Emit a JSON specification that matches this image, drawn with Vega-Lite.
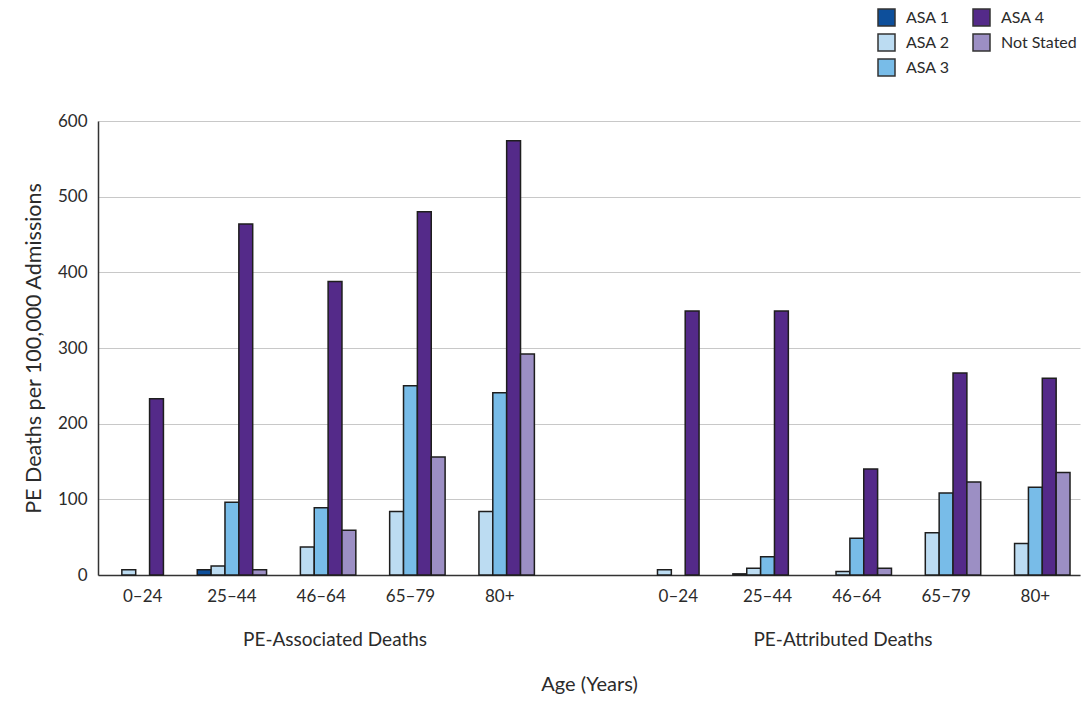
{
  "$schema": "https://vega.github.io/schema/vega-lite/v6.json",
  "width": 982,
  "height": 454,
  "autosize": {"type": "none"},
  "padding": {"left": 98, "top": 121, "right": 4, "bottom": 129},
  "background": "white",
  "config": {
    "font": "Lato",
    "view": {"stroke": null},
    "axis": {"labelColor": "#2b2b2b", "titleColor": "#2b2b2b", "labelFont": "Lato", "titleFont": "Lato", "titleFontWeight": "normal"},
    "legend": {"labelColor": "#2b2b2b", "labelFont": "Lato"}
  },
  "datasets": {
    "bars": [
      {"cat": "Associated|0–24", "asa": "ASA 2", "value": 7},
      {"cat": "Associated|0–24", "asa": "ASA 4", "value": 233},
      {"cat": "Associated|25–44", "asa": "ASA 1", "value": 7},
      {"cat": "Associated|25–44", "asa": "ASA 2", "value": 12},
      {"cat": "Associated|25–44", "asa": "ASA 3", "value": 96},
      {"cat": "Associated|25–44", "asa": "ASA 4", "value": 464},
      {"cat": "Associated|25–44", "asa": "Not Stated", "value": 7},
      {"cat": "Associated|46–64", "asa": "ASA 2", "value": 37},
      {"cat": "Associated|46–64", "asa": "ASA 3", "value": 89},
      {"cat": "Associated|46–64", "asa": "ASA 4", "value": 388},
      {"cat": "Associated|46–64", "asa": "Not Stated", "value": 59},
      {"cat": "Associated|65–79", "asa": "ASA 2", "value": 84},
      {"cat": "Associated|65–79", "asa": "ASA 3", "value": 250},
      {"cat": "Associated|65–79", "asa": "ASA 4", "value": 480},
      {"cat": "Associated|65–79", "asa": "Not Stated", "value": 156},
      {"cat": "Associated|80+", "asa": "ASA 2", "value": 84},
      {"cat": "Associated|80+", "asa": "ASA 3", "value": 241},
      {"cat": "Associated|80+", "asa": "ASA 4", "value": 574},
      {"cat": "Associated|80+", "asa": "Not Stated", "value": 292},
      {"cat": "Attributed|0–24", "asa": "ASA 2", "value": 7},
      {"cat": "Attributed|0–24", "asa": "ASA 4", "value": 349},
      {"cat": "Attributed|25–44", "asa": "ASA 1", "value": 1.5},
      {"cat": "Attributed|25–44", "asa": "ASA 2", "value": 9},
      {"cat": "Attributed|25–44", "asa": "ASA 3", "value": 24},
      {"cat": "Attributed|25–44", "asa": "ASA 4", "value": 349},
      {"cat": "Attributed|46–64", "asa": "ASA 2", "value": 4.5},
      {"cat": "Attributed|46–64", "asa": "ASA 3", "value": 48.5},
      {"cat": "Attributed|46–64", "asa": "ASA 4", "value": 140},
      {"cat": "Attributed|46–64", "asa": "Not Stated", "value": 9},
      {"cat": "Attributed|65–79", "asa": "ASA 2", "value": 56},
      {"cat": "Attributed|65–79", "asa": "ASA 3", "value": 108.5},
      {"cat": "Attributed|65–79", "asa": "ASA 4", "value": 267},
      {"cat": "Attributed|65–79", "asa": "Not Stated", "value": 123},
      {"cat": "Attributed|80+", "asa": "ASA 2", "value": 41.5},
      {"cat": "Attributed|80+", "asa": "ASA 3", "value": 116},
      {"cat": "Attributed|80+", "asa": "ASA 4", "value": 260},
      {"cat": "Attributed|80+", "asa": "Not Stated", "value": 135.5}
    ],
    "groups": [
      {"cat": "Associated|46–64", "slot": "ASA 4", "label": "PE-Associated Deaths"},
      {"cat": "Attributed|46–64", "slot": "ASA 2", "label": "PE-Attributed Deaths"}
    ]
  },
  "layer": [
    {
      "data": {"name": "bars"},
      "mark": {"type": "bar", "stroke": "#1e1e1e", "strokeWidth": 1.5, "clip": false},
      "encoding": {
        "x": {
          "field": "cat", "type": "nominal",
          "scale": {
            "domain": ["Associated|0–24", "Associated|25–44", "Associated|46–64", "Associated|65–79", "Associated|80+", "gap", "Attributed|0–24", "Attributed|25–44", "Attributed|46–64", "Attributed|65–79", "Attributed|80+"],
            "paddingInner": 0, "paddingOuter": 0
          },
          "axis": {
            "title": "Age (Years)",
            "titleFontSize": 20,
            "titlePadding": 70,
            "labelExpr": "datum.label == 'gap' ? '' : split(datum.label, '|')[1]",
            "labelAngle": 0,
            "labelFontSize": 17,
            "labelPadding": 13,
            "ticks": false,
            "domainColor": "#333333",
            "domainWidth": 1.5,
            "grid": false
          }
        },
        "xOffset": {
          "field": "asa", "type": "nominal",
          "scale": {"domain": ["ASA 1", "ASA 2", "ASA 3", "ASA 4", "Not Stated"], "paddingInner": 0, "paddingOuter": 0.72}
        },
        "y": {
          "field": "value", "type": "quantitative",
          "scale": {"domain": [0, 600], "nice": false},
          "axis": {
            "title": "PE Deaths per 100,000 Admissions",
            "titleFontSize": 21.5,
            "titlePadding": 12,
            "values": [0, 100, 200, 300, 400, 500, 600],
            "labelFontSize": 17,
            "labelPadding": 11,
            "ticks": false,
            "domainColor": "#333333",
            "domainWidth": 1.5,
            "gridColor": "#c8c8c8",
            "gridWidth": 1.2
          }
        },
        "color": {
          "field": "asa", "type": "nominal",
          "scale": {
            "domain": ["ASA 1", "ASA 2", "ASA 3", "ASA 4", "Not Stated"],
            "range": ["#0d4f9b", "#bcdcf2", "#78bce8", "#542a89", "#9c8fc4"]
          },
          "legend": {
            "title": null,
            "orient": "none",
            "legendX": 779,
            "legendY": -113,
            "columns": 2,
            "columnPadding": 20,
            "rowPadding": 2,
            "symbolType": "square",
            "symbolSize": 289,
            "symbolStrokeColor": "#333333",
            "symbolStrokeWidth": 1.5,
            "labelFontSize": 16,
            "labelOffset": 10
          }
        }
      }
    },
    {
      "data": {"name": "groups"},
      "mark": {"type": "text", "fontSize": 19, "dy": 65, "baseline": "middle", "align": "center", "color": "#2b2b2b", "font": "Lato"},
      "encoding": {
        "x": {"field": "cat", "type": "nominal"},
        "xOffset": {"field": "slot", "type": "nominal"},
        "y": {"datum": 0},
        "text": {"field": "label"}
      }
    }
  ]
}
